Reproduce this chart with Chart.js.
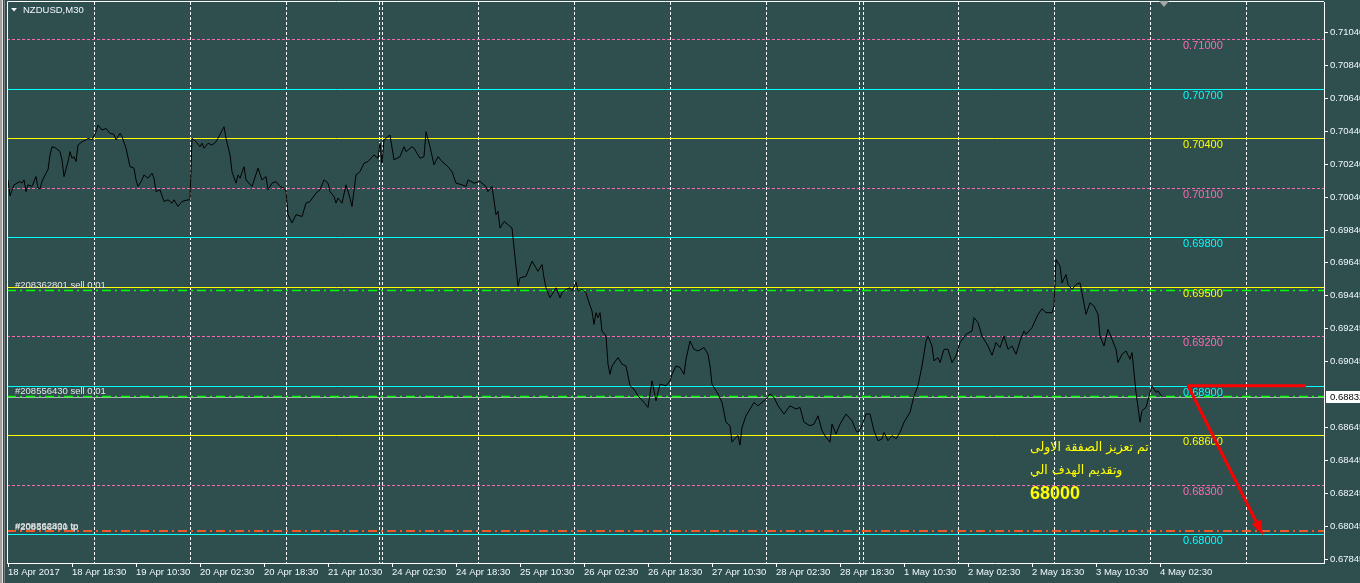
<!DOCTYPE html>
<html>
<head>
<meta charset="utf-8">
<title>NZDUSD,M30</title>
<script src="https://cdn.jsdelivr.net/npm/chart.js@4.4.1/dist/chart.umd.min.js"></script>
<style>
  html, body { margin: 0; padding: 0; background: #2f4f4f; overflow: hidden; }
  canvas { display: block; }
</style>
</head>
<body>
<canvas id="chart" width="1360" height="583"></canvas>
<script>
// ============================================================
// NZDUSD M30 — MetaTrader style line chart with trade levels
// ============================================================

// Bar index (0 = 18 Apr 2017 02:30, one bar = 30 min) and close price
const bars = [
    0, 1, 3, 6, 7, 8, 9, 10, 12, 14,
    15, 16, 17, 19, 20, 21, 22, 24, 26, 27,
    28, 30, 31, 32, 33, 34, 35, 37, 39, 40,
    42, 44, 45, 47, 49, 51, 53, 54, 56, 57,
    59, 61, 63, 64, 65, 67, 68, 70, 72, 73,
    74, 76, 78, 80, 82, 83, 85, 87, 90, 91,
    92, 94, 96, 97, 98, 100, 102, 104, 105, 108,
    109, 111, 112, 114, 115, 116, 118, 119, 122, 125,
    127, 129, 130, 132, 134, 136, 138, 139, 140, 142,
    144, 147, 149, 151, 154, 156, 158, 160, 161, 163,
    164, 165, 167, 169, 171, 172, 174, 176, 178, 180,
    183, 185, 186, 187, 188, 191, 193, 196, 198, 199,
    202, 203, 206, 208, 209, 211, 213, 215, 217, 220,
    222, 224, 227, 229, 230, 233, 236, 239, 240, 242,
    244, 245, 246, 248, 250, 252, 255, 256, 259, 262,
    265, 267, 268, 269, 271, 273, 274, 276, 277, 279,
    281, 282, 284, 285, 287, 289, 290, 292, 293, 294,
    295, 296, 297, 299, 300, 301, 302, 305, 307, 309,
    311, 313, 315, 318, 320, 322, 324, 326, 329, 331,
    332, 334, 336, 338, 339, 341, 343, 345, 348, 350,
    351, 352, 355, 357, 359, 361, 362, 364, 365, 366,
    367, 369, 371, 373, 375, 377, 379, 381, 383, 385,
    388, 391, 394, 396, 398, 401, 403, 405, 407, 409,
    411, 412, 414, 416, 419, 422, 424, 425, 427, 429,
    431, 433, 435, 437, 438, 440, 442, 444, 446, 448,
    451, 453, 455, 457, 459, 460, 462, 463, 465, 466,
    468, 470, 472, 474, 476, 479, 482, 483, 485, 487,
    490, 492, 494, 496, 498, 500, 502, 504, 506, 508,
    509, 512, 515, 517, 519, 522, 523, 524, 526, 527,
    529, 530, 532, 534, 536, 537, 539, 541, 543, 545,
    546, 548, 550, 552, 554, 555, 557, 559, 561, 562,
    564, 566, 567, 569, 571, 572, 574, 575, 577
];
const closes = [
    0.70148, 0.70051, 0.70118, 0.70138, 0.70128, 0.70148, 0.70077, 0.70118, 0.70108, 0.70168,
    0.70098, 0.70094, 0.70138, 0.70189, 0.70209, 0.70299, 0.70349, 0.70340, 0.70319, 0.70269,
    0.70168, 0.70259, 0.70319, 0.70279, 0.70289, 0.70259, 0.70359, 0.70379, 0.70390, 0.70400,
    0.70390, 0.70440, 0.70480, 0.70450, 0.70460, 0.70430, 0.70424, 0.70390, 0.70430, 0.70410,
    0.70340, 0.70228, 0.70219, 0.70148, 0.70108, 0.70148, 0.70178, 0.70158, 0.70189, 0.70158,
    0.70077, 0.70088, 0.70017, 0.70027, 0.70007, 0.70027, 0.69987, 0.70017, 0.70027, 0.70027,
    0.70400, 0.70379, 0.70349, 0.70370, 0.70340, 0.70370, 0.70359, 0.70379, 0.70400, 0.70470,
    0.70400, 0.70299, 0.70198, 0.70128, 0.70178, 0.70158, 0.70228, 0.70148, 0.70108, 0.70219,
    0.70148, 0.70168, 0.70088, 0.70128, 0.70138, 0.70108, 0.70098, 0.70077, 0.69937, 0.69887,
    0.69937, 0.69926, 0.70007, 0.70017, 0.70068, 0.70088, 0.70148, 0.70128, 0.70077, 0.70047,
    0.70007, 0.70038, 0.70007, 0.70118, 0.70038, 0.69987, 0.70178, 0.70198, 0.70249, 0.70259,
    0.70299, 0.70279, 0.70370, 0.70249, 0.70390, 0.70420, 0.70269, 0.70289, 0.70349, 0.70319,
    0.70349, 0.70340, 0.70279, 0.70289, 0.70440, 0.70349, 0.70239, 0.70289, 0.70259, 0.70228,
    0.70198, 0.70128, 0.70118, 0.70108, 0.70148, 0.70128, 0.70138, 0.70108, 0.70077, 0.70108,
    0.69937, 0.69957, 0.69856, 0.69896, 0.69876, 0.69856, 0.69504, 0.69554, 0.69564, 0.69655,
    0.69594, 0.69635, 0.69554, 0.69494, 0.69434, 0.69473, 0.69494, 0.69434, 0.69464, 0.69484,
    0.69494, 0.69473, 0.69528, 0.69473, 0.69484, 0.69464, 0.69423, 0.69353, 0.69272, 0.69343,
    0.69313, 0.69343, 0.69232, 0.69202, 0.69031, 0.68970, 0.69020, 0.69071, 0.69031, 0.69020,
    0.68900, 0.68880, 0.68839, 0.68799, 0.68769, 0.68930, 0.68809, 0.68910, 0.68900, 0.68930,
    0.68970, 0.69020, 0.69011, 0.68970, 0.69061, 0.69171, 0.69121, 0.69111, 0.69132, 0.69091,
    0.69020, 0.68910, 0.68850, 0.68799, 0.68679, 0.68658, 0.68558, 0.68588, 0.68598, 0.68541,
    0.68648, 0.68718, 0.68759, 0.68799, 0.68779, 0.68799, 0.68819, 0.68850, 0.68830, 0.68779,
    0.68729, 0.68779, 0.68759, 0.68769, 0.68679, 0.68658, 0.68668, 0.68718, 0.68628, 0.68588,
    0.68558, 0.68668, 0.68608, 0.68668, 0.68729, 0.68688, 0.68628, 0.68618, 0.68658, 0.68729,
    0.68729, 0.68628, 0.68567, 0.68578, 0.68618, 0.68567, 0.68598, 0.68578, 0.68618, 0.68679,
    0.68739, 0.68839, 0.68900, 0.69020, 0.69171, 0.69202, 0.69141, 0.69051, 0.69071, 0.69041,
    0.69121, 0.69121, 0.69041, 0.69081, 0.69162, 0.69212, 0.69232, 0.69313, 0.69283, 0.69202,
    0.69141, 0.69085, 0.69162, 0.69132, 0.69202, 0.69121, 0.69141, 0.69091, 0.69171, 0.69232,
    0.69212, 0.69252, 0.69333, 0.69367, 0.69343, 0.69343, 0.69383, 0.69665, 0.69624, 0.69524,
    0.69574, 0.69514, 0.69484, 0.69514, 0.69524, 0.69464, 0.69333, 0.69403, 0.69383, 0.69333,
    0.69202, 0.69141, 0.69242, 0.69182, 0.69121, 0.69041, 0.69091, 0.69111, 0.69061, 0.69101,
    0.68860, 0.68679, 0.68749, 0.68769, 0.68860, 0.68900, 0.68860, 0.68869, 0.68832
];

// Time axis: one label every 32 bars (16 hours)
const xTickBars = [0, 32, 64, 96, 128, 160, 192, 224, 256, 288, 320, 352, 384, 416, 448, 480, 512, 544, 576];
const xTickLabels = [
    '18 Apr 2017', '18 Apr 18:30', '19 Apr 10:30', '20 Apr 02:30', '20 Apr 18:30',
    '21 Apr 10:30', '24 Apr 02:30', '24 Apr 18:30', '25 Apr 10:30', '26 Apr 02:30',
    '26 Apr 18:30', '27 Apr 10:30', '28 Apr 02:30', '28 Apr 18:30', '1 May 10:30',
    '2 May 02:30', '2 May 18:30', '3 May 10:30', '4 May 02:30'
];

// Period separators (first bar of each day)
const separatorBars = [43, 91, 139, 185.5, 187, 235, 283, 331, 379, 425.5, 427.5, 475, 523, 571, 619];

// Price axis labels
const yTickValues = [
    0.71040, 0.70840, 0.70640, 0.70440, 0.70240, 0.70040, 0.69840, 0.69645,
    0.69445, 0.69245, 0.69045, 0.68645, 0.68445, 0.68245, 0.68045, 0.67845
];

// Hand-drawn horizontal levels (every 30 pips)
const levelPrices = [0.71000, 0.70700, 0.70400, 0.70100, 0.69800, 0.69500, 0.69200, 0.68900, 0.68600, 0.68300, 0.68000];

// Open orders
const orderTickets = ['#208362801', '#208556430'];
const orderSides = ['sell', 'sell'];
const orderLots = ['0.01', '0.01'];
const orderOpen = [0.69478, 0.68840];
const orderTp = [0.68025, 0.68020];

const bidPrice = 0.68832;

// Red arrow: flat line at entry + diagonal to the new target
const arrowStart = { bar: 590, price: 0.68900 };
const arrowFlatEnd = 649;
const arrowTarget = { bar: 627.5, price: 0.67994 };

// Note written on the chart
const noteLines = ['تم تعزيز الصفقة الاولى', 'وتقديم الهدف الي', '68000'];
const notePrices = [0.68523, 0.68384, 0.68245];
const noteBar = 511;

// Anchor bars for text labels / shift marker
const levelLabelBar = 587.5;
const orderLabelBar = 3.5;
const shiftBar = 578;

// ============================================================
// Styling
// ============================================================
const BG = '#2f4f4f';
const FG = '#f2f8ff';
const FONT = "'Liberation Sans', Arial, sans-serif";
const X_MIN = -0.5, X_MAX = 658;
const Y_MIN = 0.67826, Y_MAX = 0.71226;

// level colours cycle pink (dashed) / cyan / yellow
const LEVEL_STYLES = [
    { color: '#ff69b4', dash: [3, 2] },
    { color: '#00ffff', dash: [] },
    { color: '#ffff00', dash: [] }
];
const ORDER_COLOR = '#00ff00';
const TP_COLOR = '#f05a28';
const DASH_DOT = [9, 4, 2, 4];

// draw a crisp horizontal line across the plot area at a price
function drawLevel(chart, price, color, dash, width) {
    const c = chart.ctx, a = chart.chartArea;
    const y = Math.round(chart.scales.y.getPixelForValue(price)) + 0.5;
    c.save();
    c.strokeStyle = color;
    c.lineWidth = width || 1;
    c.setLineDash(dash || []);
    c.beginPath();
    c.moveTo(a.left, y);
    c.lineTo(a.right, y);
    c.stroke();
    c.restore();
    return y;
}

const mtPlugin = {
    id: 'mt4',
    beforeDraw(chart) {
        const c = chart.ctx;
        c.save();
        c.fillStyle = BG;
        c.fillRect(0, 0, chart.width, chart.height);
        // window frame on the left
        c.fillStyle = '#a0a0a0'; c.fillRect(0, 0, 2, chart.height);
        c.fillStyle = '#e4e4e4'; c.fillRect(2, 0, 1, chart.height);
        c.fillStyle = '#808080'; c.fillRect(4, 0, 1, chart.height);
        c.restore();
    },
    beforeDatasetsDraw(chart) {
        const c = chart.ctx, a = chart.chartArea, xs = chart.scales.x;

        // day separators
        c.save();
        c.strokeStyle = '#ffffff';
        c.lineWidth = 1;
        c.setLineDash([3, 2]);
        separatorBars.forEach(b => {
            const px = Math.round(xs.getPixelForValue(b)) + 0.5;
            c.beginPath();
            c.moveTo(px, a.top);
            c.lineTo(px, a.bottom);
            c.stroke();
        });
        c.restore();

        // levels, bid, orders, take profits
        levelPrices.forEach((p, i) => {
            const st = LEVEL_STYLES[i % 3];
            drawLevel(chart, p, st.color, st.dash);
        });
        drawLevel(chart, bidPrice, '#b4b4b4', []);
        orderOpen.forEach(p => drawLevel(chart, p, ORDER_COLOR, DASH_DOT, 1.5));
        orderTp.forEach(p => drawLevel(chart, p, TP_COLOR, DASH_DOT, 1));
    },
    afterDatasetsDraw(chart) {
        const c = chart.ctx, a = chart.chartArea;
        const xs = chart.scales.x, ys = chart.scales.y;
        c.save();

        // plot frame (top and left; bottom/right come from the axes)
        c.strokeStyle = '#ffffff';
        c.lineWidth = 1;
        c.beginPath();
        c.moveTo(a.left + 0.5, a.bottom);
        c.lineTo(a.left + 0.5, a.top - 0.5);
        c.lineTo(a.right, a.top - 0.5);
        c.stroke();

        // level price labels
        c.font = `11px ${FONT}`;
        c.textBaseline = 'middle';
        c.textAlign = 'left';
        const lx = xs.getPixelForValue(levelLabelBar);
        levelPrices.forEach((p, i) => {
            c.fillStyle = LEVEL_STYLES[i % 3].color;
            c.fillText(p.toFixed(5), lx, Math.round(ys.getPixelForValue(p)) + 7);
        });

        // order labels
        c.font = `9.5px ${FONT}`;
        c.fillStyle = '#e6e6e6';
        const ox = xs.getPixelForValue(orderLabelBar);
        orderTickets.forEach((t, i) => {
            c.fillText(`${t} ${orderSides[i]} ${orderLots[i]}`, ox, Math.round(ys.getPixelForValue(orderOpen[i])) - 5);
            c.fillText(`${t} tp`, ox, Math.round(ys.getPixelForValue(orderTp[i])) - 4);
        });

        // note text
        c.fillStyle = '#ffff00';
        const nx = xs.getPixelForValue(noteBar);
        noteLines.forEach((line, i) => {
            const isNumber = /^[0-9]+$/.test(line);
            c.font = isNumber ? `bold 18px ${FONT}` : "12.5px 'DejaVu Sans', sans-serif";
            c.fillText(line, nx, ys.getPixelForValue(notePrices[i]));
        });

        // red arrow
        const x0 = xs.getPixelForValue(arrowStart.bar), y0 = ys.getPixelForValue(arrowStart.price);
        const x1 = xs.getPixelForValue(arrowFlatEnd);
        const xt = xs.getPixelForValue(arrowTarget.bar), yt = ys.getPixelForValue(arrowTarget.price);
        c.strokeStyle = '#ff0000';
        c.fillStyle = '#ff0000';
        c.lineWidth = 3;
        c.beginPath(); c.moveTo(x0, y0); c.lineTo(x1, y0); c.stroke();
        const ang = Math.atan2(yt - y0, xt - x0);
        const head = 15, half = 5;
        const bx = xt - head * Math.cos(ang), by = yt - head * Math.sin(ang);
        c.beginPath(); c.moveTo(x0, y0); c.lineTo(bx, by); c.stroke();
        c.beginPath();
        c.moveTo(xt, yt);
        c.lineTo(bx + half * Math.sin(ang), by - half * Math.cos(ang));
        c.lineTo(bx - half * Math.sin(ang), by + half * Math.cos(ang));
        c.closePath();
        c.fill();

        // current bid box on the price axis
        const bidY = Math.round(ys.getPixelForValue(bidPrice));
        c.fillStyle = '#ffffff';
        c.fillRect(a.right + 2, bidY - 6, chart.width - a.right - 2, 12);
        c.fillStyle = '#000000';
        c.font = `9.5px ${FONT}`;
        c.fillText(bidPrice.toFixed(5), a.right + 6, bidY);

        // symbol title
        c.fillStyle = FG;
        c.beginPath();
        c.moveTo(a.left + 4, 8); c.lineTo(a.left + 10, 8); c.lineTo(a.left + 7, 11.5);
        c.closePath(); c.fill();
        c.fillText('NZDUSD,M30', a.left + 16, 10);

        // chart shift marker
        const sx = xs.getPixelForValue(shiftBar);
        c.fillStyle = '#a8a8a8';
        c.beginPath();
        c.moveTo(sx - 5, a.top - 1); c.lineTo(sx + 5, a.top - 1); c.lineTo(sx, a.top + 5);
        c.closePath(); c.fill();

        c.restore();
    }
};

const ctx = document.getElementById('chart').getContext('2d');
const priceChart = new Chart(ctx, {
    type: 'line',
    data: {
        datasets: [{
            label: 'NZDUSD,M30',
            data: bars.map((b, i) => ({ x: b, y: closes[i] })),
            borderColor: '#000000',
            borderWidth: 1,
            pointRadius: 0,
            tension: 0,
            fill: false
        }]
    },
    options: {
        responsive: false,
        devicePixelRatio: 1,
        animation: false,
        events: [],
        layout: { padding: { left: 7, top: 2, right: 0, bottom: 0 } },
        plugins: {
            legend: { display: false },
            tooltip: { enabled: false }
        },
        scales: {
            x: {
                type: 'linear',
                position: 'bottom',
                min: X_MIN,
                max: X_MAX,
                afterBuildTicks: s => { s.ticks = xTickBars.map(v => ({ value: v })); },
                afterFit: s => { s.height = 20; s.paddingLeft = 0; s.paddingRight = 0; },
                ticks: {
                    autoSkip: false,
                    maxRotation: 0,
                    align: 'start',
                    padding: 0,
                    color: FG,
                    font: { family: FONT, size: 9.5 },
                    callback: (v, i) => xTickLabels[i]
                },
                grid: { drawOnChartArea: false, drawTicks: true, tickLength: 4, color: '#ffffff' },
                border: { display: true, color: '#ffffff' }
            },
            y: {
                type: 'linear',
                position: 'right',
                min: Y_MIN,
                max: Y_MAX,
                afterBuildTicks: s => { s.ticks = yTickValues.map(v => ({ value: v })); },
                afterFit: s => { s.width = 36; s.paddingTop = 0; s.paddingBottom = 0; },
                ticks: {
                    padding: 2,
                    crossAlign: 'near',
                    color: FG,
                    font: { family: FONT, size: 9.5 },
                    callback: v => v.toFixed(5)
                },
                grid: { drawOnChartArea: false, drawTicks: true, tickLength: 4, color: '#ffffff' },
                border: { display: true, color: '#ffffff' }
            }
        }
    },
    plugins: [mtPlugin]
});
</script>
</body>
</html>
